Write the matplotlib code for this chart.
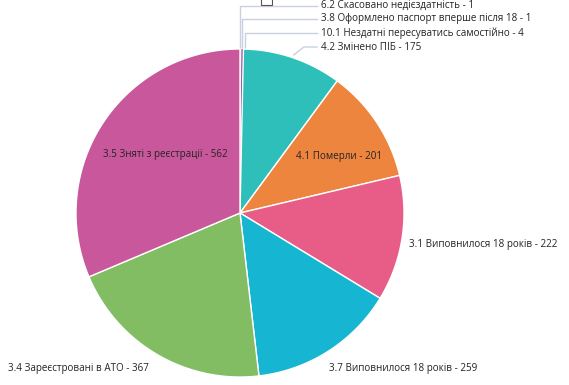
import numpy as np
import matplotlib
matplotlib.use('Agg')
import matplotlib.pyplot as plt
from matplotlib.patches import Rectangle

# Slices in clockwise order starting from 12 o'clock.
labels = ['6.2 Скасовано недієздатність', '3.8 Оформлено паспорт вперше після 18',
          '10.1 Нездатні пересуватись самостійно', '4.2 Змінено ПІБ', '4.1 Померли',
          '3.1 Виповнилося 18 років', '3.7 Виповнилося 18 років',
          '3.4 Зареєстровані в АТО', '3.5 Зняті з реєстрації']
values = [1, 1, 4, 175, 201, 222, 259, 367, 562]
colors = ['#F2A39C', '#F5C744', '#8A58A8', '#2EBFBA', '#EE853F', '#E85D88',
          '#16B6D2', '#83BD63', '#C9579C']

plt.rcParams['font.family'] = ['Open Sans', 'DejaVu Sans']
W, H = 569, 385
fig = plt.figure(figsize=(W / 100, H / 100), dpi=100)
ax = fig.add_axes([0, 0, 1, 1])
ax.set_xlim(0, W)
ax.set_ylim(H, 0)
ax.axis('off')

cx, cy, r = 240, 213, 164
total = sum(values)
ang = 0.0
mids = []
for v, c in zip(values, colors):
    a0 = ang
    a1 = ang + v / total * 2 * np.pi
    t = np.linspace(a0, a1, max(3, int((a1 - a0) * 80)))
    xs = np.concatenate([[cx], cx + r * np.sin(t), [cx]])
    ys = np.concatenate([[cy], cy - r * np.cos(t), [cy]])
    ax.fill(xs, ys, color=c, ec='white', lw=1 if v > 10 else 0.2, zorder=2)
    mids.append((a0 + a1) / 2)
    ang = a1

txt = '#252423'
fs = 7.1
lc = '#C9D1E0'

def lbl(i):
    return f'{labels[i]} - {values[i]}'

# small slices at the top with leader lines
rows = [5.5, 19, 33]
xoff = [0, 1, 3]
for i in range(3):
    px = cx + r * np.sin(mids[i]) + xoff[i]
    ax.plot([px, px, 317], [cy - r, rows[i], rows[i]], color=lc, lw=1, zorder=1)
    ax.text(321, rows[i], lbl(i), fontsize=fs, color=txt, va='center', ha='left')

# 4.2 leader
sx = cx + (r + 3) * np.sin(mids[3])
sy = cy - (r + 3) * np.cos(mids[3])
ax.plot([sx, 304, 317], [sy, 47, 47], color=lc, lw=1, zorder=1)
ax.text(321, 47, lbl(3), fontsize=fs, color=txt, va='center', ha='left')

ax.text(339, 157, lbl(4), fontsize=fs, color=txt, va='center', ha='center', zorder=3)
ax.text(165, 155, lbl(8), fontsize=fs, color=txt, va='center', ha='center', zorder=3)
ax.text(409, 245, lbl(5), fontsize=fs, color=txt, va='center', ha='left')
ax.text(329, 368, lbl(6), fontsize=fs, color=txt, va='center', ha='left')
ax.text(8, 368, lbl(7), fontsize=fs, color=txt, va='center', ha='left')

ax.add_patch(Rectangle((261, -2), 11, 7, fill=False, ec='#555555', lw=0.8))

fig.savefig('out.png', dpi=100)
